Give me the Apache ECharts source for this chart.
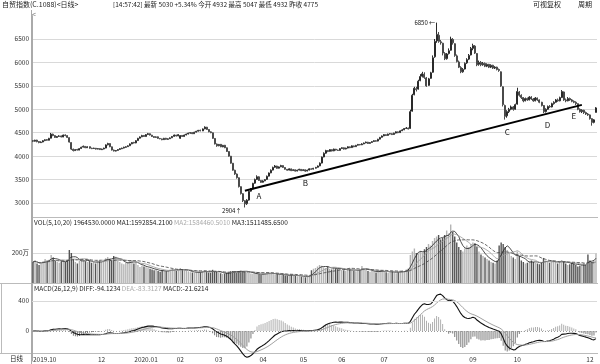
<!DOCTYPE html>
<html><head><meta charset="utf-8">
<script src="https://cdn.jsdelivr.net/npm/echarts@6/dist/echarts.min.js"></script>
<style>html,body{margin:0;padding:0;background:#fff}#c{width:600px;height:364px}</style>
</head><body><div id="c"></div>
<script>
// daily bars: [open, close, low, high]
const candles = [
[4330,4320,4300,4345],[4318,4340,4310,4350],[4342,4310,4295,4350],[4312,4290,4275,4320],[4288,4300,4280,4315],[4302,4330,4295,4340],[4332,4350,4320,4360],[4352,4340,4330,4365],[4338,4380,4335,4390],[4382,4470,4378,4495],
[4468,4440,4425,4480],[4438,4400,4390,4445],[4398,4420,4390,4430],[4422,4430,4410,4445],[4432,4410,4400,4440],[4408,4450,4405,4460],[4452,4440,4425,4465],[4438,4400,4390,4445],[4395,4300,4290,4400],[4290,4150,4130,4295],
[4148,4120,4100,4160],[4118,4140,4110,4150],[4142,4130,4120,4155],[4128,4160,4125,4170],[4162,4190,4155,4200],[4192,4210,4185,4225],[4208,4180,4170,4215],[4178,4200,4175,4210],[4202,4170,4160,4205],[4168,4160,4150,4180],
[4162,4170,4155,4180],[4168,4150,4140,4175],[4150,4160,4145,4170],[4162,4140,4130,4165],[4138,4150,4130,4160],[4152,4170,4145,4180],[4172,4240,4168,4250],[4242,4270,4230,4285],[4268,4200,4190,4275],[4198,4130,4120,4205],
[4128,4110,4100,4140],[4108,4120,4100,4130],[4122,4140,4115,4150],[4142,4160,4135,4170],[4158,4170,4150,4180],[4172,4190,4165,4200],[4188,4200,4180,4210],[4202,4220,4195,4230],[4222,4260,4215,4270],[4262,4290,4255,4300],
[4292,4280,4270,4305],[4282,4330,4275,4340],[4332,4380,4325,4390],[4382,4410,4375,4420],[4412,4440,4405,4455],[4442,4420,4410,4450],[4418,4460,4415,4470],[4462,4480,4450,4495],[4478,4450,4440,4485],[4448,4420,4410,4455],
[4418,4400,4390,4425],[4402,4410,4395,4420],[4412,4380,4370,4420],[4378,4370,4360,4385],[4368,4350,4340,4375],[4352,4380,4345,4390],[4382,4360,4350,4390],[4358,4370,4350,4380],[4372,4390,4365,4400],[4392,4420,4385,4430],
[4422,4450,4415,4460],[4448,4430,4420,4455],[4432,4460,4425,4470],[4380,4440,4370,4450],[4442,4420,4410,4450],[4418,4450,4415,4460],[4452,4470,4445,4480],[4472,4490,4465,4500],[4492,4500,4480,4510],[4502,4480,4470,4510],
[4478,4510,4475,4520],[4512,4530,4505,4540],[4532,4550,4525,4560],[4552,4540,4530,4565],[4538,4580,4535,4590],[4582,4620,4575,4635],[4618,4570,4560,4625],[4568,4520,4510,4575],[4518,4500,4490,4530],[4498,4380,4370,4505],
[4378,4260,4250,4385],[4258,4220,4200,4270],[4222,4250,4210,4260],[4252,4200,4190,4260],[4198,4230,4190,4240],[4232,4180,4170,4240],[4178,4100,4090,4185],[4098,4000,3990,4105],[3998,3850,3840,4005],[3848,3700,3690,3855],
[3698,3620,3600,3710],[3618,3540,3520,3630],[3538,3350,3330,3545],[3348,3200,3180,3355],[3198,3050,3020,3210],[3048,2980,2904,3060],[2985,3060,2960,3080],[3062,3250,3050,3260],[3252,3300,3240,3320],[3302,3420,3295,3430],
[3422,3500,3410,3520],[3502,3560,3490,3590],[3558,3480,3470,3570],[3478,3440,3430,3490],[3442,3470,3435,3485],[3472,3500,3465,3510],[3502,3570,3495,3585],[3572,3640,3565,3650],[3642,3700,3635,3715],[3702,3760,3695,3775],
[3762,3790,3750,3810],[3788,3740,3730,3795],[3742,3770,3735,3780],[3772,3800,3765,3815],[3798,3760,3750,3805],[3758,3720,3710,3765],[3718,3700,3690,3725],[3702,3730,3695,3740],[3728,3690,3680,3735],[3692,3710,3685,3720],
[3708,3680,3670,3715],[3682,3700,3675,3710],[3702,3720,3695,3730],[3718,3690,3680,3725],[3692,3710,3685,3720],[3708,3680,3665,3715],[3682,3700,3675,3710],[3702,3730,3695,3740],[3728,3720,3710,3740],[3722,3740,3715,3750],
[3742,3760,3735,3770],[3762,3790,3755,3800],[3792,3850,3785,3865],[3852,3980,3845,3990],[3982,4060,3975,4080],[4062,4120,4050,4135],[4118,4100,4085,4130],[4102,4140,4095,4150],[4138,4110,4100,4145],[4112,4150,4105,4160],
[4148,4130,4120,4155],[4128,4120,4110,4140],[4122,4160,4115,4170],[4162,4180,4155,4190],[4178,4150,4140,4185],[4152,4170,4145,4180],[4172,4200,4165,4210],[4198,4180,4170,4205],[4182,4220,4175,4230],[4218,4200,4190,4225],
[4202,4230,4195,4240],[4232,4250,4225,4260],[4248,4240,4230,4260],[4242,4260,4235,4275],[4262,4280,4255,4290],[4282,4300,4275,4310],[4298,4270,4260,4305],[4272,4290,4265,4300],[4292,4310,4285,4320],[4312,4330,4305,4340],
[4328,4320,4310,4340],[4322,4360,4315,4370],[4362,4400,4355,4410],[4402,4430,4395,4440],[4432,4460,4425,4470],[4458,4440,4430,4465],[4442,4470,4435,4480],[4472,4480,4465,4490],[4478,4460,4450,4490],[4462,4490,4455,4500],
[4492,4520,4485,4530],[4518,4500,4490,4525],[4502,4540,4495,4550],[4542,4560,4535,4575],[4562,4590,4555,4600],[4592,4600,4580,4620],[4598,4580,4570,4610],[4590,4950,4585,4990],[4960,5300,4950,5330],[5310,5450,5300,5480],
[5440,5420,5380,5480],[5430,5600,5420,5630],[5610,5700,5600,5750],[5705,5760,5680,5800],[5750,5680,5650,5790],[5670,5500,5480,5690],[5510,5650,5500,5670],[5660,5780,5650,5800],[5790,6100,5780,6150],[6120,6450,6100,6500],
[6460,6600,6420,6850],[6580,6450,6420,6650],[6440,6420,6380,6480],[6410,6200,6150,6420],[6190,6080,6050,6220],[6080,6180,6060,6200],[6190,6250,6170,6300],[6260,6500,6250,6550],[6490,6420,6380,6520],[6400,6150,6120,6410],
[6140,6020,6000,6170],[6010,5900,5880,6040],[5890,5800,5770,5920],[5800,5850,5780,5880],[5860,5980,5850,6000],[5990,6060,5970,6090],[6070,6150,6050,6180],[6160,6300,6150,6330],[6300,6360,6260,6400],[6350,6200,6180,6370],
[6190,5950,5920,6200],[5960,6000,5930,6040],[6000,5950,5920,6030],[5950,5980,5930,6010],[5980,5920,5900,6000],[5920,5960,5900,5980],[5960,5900,5880,5970],[5900,5940,5880,5960],[5940,5880,5860,5950],[5880,5900,5860,5920],
[5900,5850,5830,5910],[5850,5830,5800,5870],[5800,5500,5480,5810],[5480,5100,5060,5490],[5080,4850,4780,5100],[4860,4950,4820,4980],[4950,5000,4920,5030],[5000,5050,4980,5080],[5050,5000,4970,5070],[5000,5100,4990,5120],
[5110,5380,5100,5460],[5370,5300,5270,5390],[5300,5250,5220,5320],[5250,5180,5150,5260],[5180,5230,5170,5250],[5230,5200,5180,5250],[5200,5260,5190,5280],[5260,5220,5200,5280],[5220,5180,5160,5240],[5180,5240,5170,5260],
[5240,5200,5180,5250],[5200,5150,5130,5210],[5150,5080,5060,5160],[5080,4950,4920,5090],[4950,5000,4930,5020],[5000,5060,4990,5080],[5060,5050,5030,5090],[5050,5120,5040,5140],[5120,5150,5100,5170],[5150,5200,5140,5220],
[5200,5180,5160,5230],[5180,5250,5170,5270],[5250,5380,5240,5410],[5370,5200,5180,5380],[5200,5180,5150,5230],[5180,5230,5170,5260],[5230,5200,5180,5250],[5200,5170,5150,5220],[5170,5150,5130,5190],[5150,5120,5090,5170],
[5120,5000,4980,5130],[5000,4950,4930,5020],[4950,4980,4920,5000],[4980,4930,4900,4990],[4930,4900,4880,4950],[4900,4880,4860,4920],[4880,4800,4780,4890],[4800,4720,4650,4810],[4720,4775,4700,4790],[4932,5030,4932,5047]
];
// daily volume, in 万 (10k)
const volumes = [
140,150,130,120,135,145,160,150,155,187,
170,150,140,135,145,150,140,155,220,200,
160,140,130,150,160,155,145,140,150,135,
140,130,145,150,140,155,165,173,160,150,
180,175,165,140,130,125,135,140,150,145,
130,140,120,107,115,110,105,100,95,90,
85,90,80,75,85,80,78,82,90,95,
88,80,85,100,92,85,80,78,72,70,
68,72,75,70,80,85,75,70,68,88,
78,75,70,65,60,62,66,72,78,80,
76,72,78,82,80,78,72,68,64,60,
60,62,58,55,60,65,70,68,62,58,
55,60,58,52,55,50,48,52,55,50,
48,45,50,42,40,38,45,50,85,95,
100,110,120,115,105,100,110,95,90,105,
98,92,100,88,85,80,90,95,85,82,
78,85,90,113,95,88,80,75,82,78,
70,75,80,85,78,72,68,75,80,70,
65,72,78,85,80,90,95,187,210,230,
200,195,215,205,225,240,260,250,280,300,
310,320,290,300,320,350,330,390,340,310,
270,240,220,210,230,250,240,260,270,265,
240,210,190,180,170,160,150,140,135,130,
150,250,270,260,240,220,200,180,170,160,
210,180,150,140,130,135,145,150,140,135,
130,125,140,167,150,140,135,145,150,140,
130,140,153,145,130,120,125,135,130,120,
110,115,125,130,120,190,150,140,150,196
];
// month labels on the time axis: [bar index, label]
const monthTicks = [[0,'2019.10'],[34,'12'],[56,'2020.01'],[73,'02'],[92,'03'],[114,'04'],[134,'05'],[153,'06'],[174,'07'],[197,'08'],[218,'09'],[240,'10'],[276,'12']];
// wave labels [text, bar index, price]
const waveLabels = [['A',112,3150],['B',135,3427],['C',235,4517],['D',255,4670],['E',268,4859]];
// trend line end points [bar index, price]
const trendLine = [[105,3263],[272,5094]];
const priceTicks = {min:2500, max:7000, step:500};

const N = candles.length;
const cats = candles.map((_, i) => String(i));
const tickMap = {}; monthTicks.forEach(([i, l]) => { tickMap[i] = l; });
const closes = candles.map(d => d[1]);
function ema(arr, n) { const a = 2 / (n + 1); let e = arr[0]; return arr.map((v, i) => { e = i === 0 ? v : a * v + (1 - a) * e; return e; }); }
const e12 = ema(closes, 12), e26 = ema(closes, 26);
const diff = closes.map((_, i) => e12[i] - e26[i]);
const dea = ema(diff, 9);
const hist = diff.map((d, i) => 2 * (d - dea[i]));
function ma(arr, n) { return arr.map((_, i) => { const s = arr.slice(Math.max(0, i - n + 1), i + 1); return s.reduce((a, b) => a + b, 0) / s.length; }); }
const up = candles.map(d => d[1] >= d[0]);
let hiIdx = 0, loIdx = 0;
candles.forEach((d, i) => { if (d[3] > candles[hiIdx][3]) hiIdx = i; if (d[2] < candles[loIdx][2]) loIdx = i; });

const FONT = '"Noto Sans CJK SC", "DejaVu Sans", sans-serif';
const chart = echarts.init(document.getElementById('c'), null, { renderer: 'canvas' });
const xBase = (gi, showLabels) => ({
  type: 'category', gridIndex: gi, data: cats, boundaryGap: true, show: showLabels,
  axisLine: { show: false }, axisTick: { show: false },
  axisLabel: showLabels ? {
    show: true, interval: (i) => tickMap[i] !== undefined, formatter: (v, i) => tickMap[i] || '',
    fontSize: 6.5, color: '#333', fontFamily: FONT, margin: 2, alignMinLabel: 'left', hideOverlap: false
  } : { show: false },
  splitLine: { show: false }
});
const gridLine = { show: true, showMinLine: false, showMaxLine: false, lineStyle: { color: '#d9d9d9', width: 1 } };
const yLbl = { fontSize: 6.5, color: '#333', fontFamily: FONT, margin: 3, showMinLabel: false, showMaxLabel: false, formatter: v => String(v) };
const markerStyle = { color: 'rgba(0,0,0,0)' };

const option = {
  animation: false,
  backgroundColor: '#fff',
  grid: [
    { left: 32, right: 3, top: 15.6, height: 210.8 },
    { left: 32, right: 3, top: 223, height: 60 },
    { left: 32, right: 3, top: 271, height: 90 },
    { left: 32, right: 3, top: 353, height: 1 }
  ],
  xAxis: [xBase(0, false), xBase(1, false), xBase(2, false), xBase(3, true)],
  yAxis: [
    { type: 'value', gridIndex: 0, min: priceTicks.min, max: priceTicks.max, interval: priceTicks.step,
      axisLine: { show: true, lineStyle: { color: '#aaa' } }, axisTick: { show: false }, axisLabel: yLbl, splitLine: gridLine },
    { type: 'value', gridIndex: 1, min: 0, max: 400, interval: 200,
      axisLine: { show: true, lineStyle: { color: '#aaa' } }, axisTick: { show: false },
      axisLabel: Object.assign({}, yLbl, { formatter: v => v === 200 ? '200万' : '' }), splitLine: gridLine },
    { type: 'value', gridIndex: 2, min: -400, max: 800, interval: 400,
      axisLine: { show: true, lineStyle: { color: '#aaa' } }, axisTick: { show: false }, axisLabel: yLbl, splitLine: { show: false } },
    { type: 'value', gridIndex: 3, show: false }
  ],
  series: [
    { type: 'candlestick', xAxisIndex: 0, yAxisIndex: 0, data: candles, barWidth: '75%',
      itemStyle: { color: '#fff', color0: '#4a4a4a', borderColor: '#2a2a2a', borderColor0: '#4a4a4a', borderWidth: 1 },
      markPoint: {
        silent: true, symbol: 'circle', symbolSize: 1, itemStyle: markerStyle,
        label: { show: true, formatter: p => p.name, color: '#111', fontSize: 8, fontFamily: FONT },
        data: waveLabels.map(([t, i, p]) => ({ name: t, coord: [i, p] })).concat([
          { name: candles[hiIdx][3] + ' ←', coord: [hiIdx, candles[hiIdx][3]], label: { position: 'left', fontSize: 6, distance: 1 } },
          { name: candles[loIdx][2] + '↑', coord: [loIdx, candles[loIdx][2]], label: { position: 'left', fontSize: 6, distance: 3, offset: [0, 3] } }
        ])
      },
      markLine: {
        silent: true, symbol: ['none', 'none'], label: { show: false },
        lineStyle: { color: '#000', width: 2, type: 'solid' },
        data: [[{ coord: trendLine[0] }, { coord: trendLine[1] }]]
      }
    },
    { type: 'bar', xAxisIndex: 1, yAxisIndex: 1, barWidth: '70%',
      data: volumes.map((v, i) => ({ value: v, itemStyle: { color: up[i] ? '#b4b4b4' : '#555' } })) },
    { type: 'line', xAxisIndex: 1, yAxisIndex: 1, data: ma(volumes, 5), symbol: 'none', lineStyle: { color: '#222', width: 0.8 } },
    { type: 'line', xAxisIndex: 1, yAxisIndex: 1, data: ma(volumes, 10), symbol: 'none', lineStyle: { color: '#9a9a9a', width: 0.8 } },
    { type: 'line', xAxisIndex: 1, yAxisIndex: 1, data: ma(volumes, 20), symbol: 'none', lineStyle: { color: '#444', width: 0.8, type: 'dashed' } },
    { type: 'bar', xAxisIndex: 2, yAxisIndex: 2, barWidth: 1,
      data: hist.map(v => ({ value: v, itemStyle: { color: v >= 0 ? '#b0b0b0' : '#7a7a7a' } })),
      markLine: {
        silent: true, symbol: ['none', 'none'], label: { show: false },
        data: [
          { yAxis: 400, lineStyle: { color: '#d9d9d9', width: 1, type: 'solid' } },
          { yAxis: 0, lineStyle: { color: '#999', width: 1, type: [1, 2] } }
        ]
      }
    },
    { type: 'line', xAxisIndex: 2, yAxisIndex: 2, data: diff, symbol: 'none', lineStyle: { color: '#111', width: 1.1 } },
    { type: 'line', xAxisIndex: 2, yAxisIndex: 2, data: dea, symbol: 'none', lineStyle: { color: '#a0a0a0', width: 1 } }
  ],
  graphic: [
    { type: 'text', left: 2, top: 1, style: { text: '自贸指数(C.1088)<日线>', fill: '#222', font: '7px ' + FONT } },
    { type: 'text', left: 113, top: 1, style: { text: '[14:57:42] 最新 5030 +5.34% 今开 4932 最高 5047 最低 4932 昨收 4775', fill: '#222', font: '6.5px ' + FONT } },
    { type: 'text', left: 533, top: 1, style: { text: '可视复权', fill: '#222', font: '7px ' + FONT } },
    { type: 'text', left: 578, top: 1, style: { text: '周期', fill: '#222', font: '7px ' + FONT } },
    { type: 'text', left: 32, top: 11, style: { text: '<', fill: '#777', font: '7px ' + FONT } },
    { type: 'text', left: 34, top: 219, style: {
        text: '{a|VOL(5,10,20) 1964530.0000 MA1:1592854.2100 }{b|MA2:1584460.5010 }{a|MA3:1511485.6500}',
        font: '6.5px ' + FONT, rich: { a: { fill: '#222', fontSize: 6.5, fontFamily: FONT }, b: { fill: '#aaa', fontSize: 6.5, fontFamily: FONT } } } },
    { type: 'text', left: 34, top: 285, style: {
        text: '{a|MACD(26,12,9) DIFF:-94.1234 }{b|DEA:-83.3127 }{a|MACD:-21.6214}',
        font: '6.5px ' + FONT, rich: { a: { fill: '#222', fontSize: 6.5, fontFamily: FONT }, b: { fill: '#aaa', fontSize: 6.5, fontFamily: FONT } } } },
    { type: 'text', left: 10, top: 355, style: { text: '日线', fill: '#222', font: '6.5px ' + FONT } },
    { type: 'line', shape: { x1: 32, y1: 217.5, x2: 598, y2: 217.5 }, style: { stroke: '#bbb', lineWidth: 1 } },
    { type: 'line', shape: { x1: 0, y1: 283.5, x2: 598, y2: 283.5 }, style: { stroke: '#bbb', lineWidth: 1 } },
    { type: 'line', shape: { x1: 0, y1: 353.5, x2: 598, y2: 353.5 }, style: { stroke: '#bbb', lineWidth: 1 } },
    { type: 'line', shape: { x1: 1.5, y1: 283.5, x2: 1.5, y2: 353.5 }, style: { stroke: '#bbb', lineWidth: 1 } },
    { type: 'line', shape: { x1: 31.5, y1: 10, x2: 31.5, y2: 364 }, style: { stroke: '#aaa', lineWidth: 1 } }
  ]
};
chart.setOption(option);
</script>
</body></html>
